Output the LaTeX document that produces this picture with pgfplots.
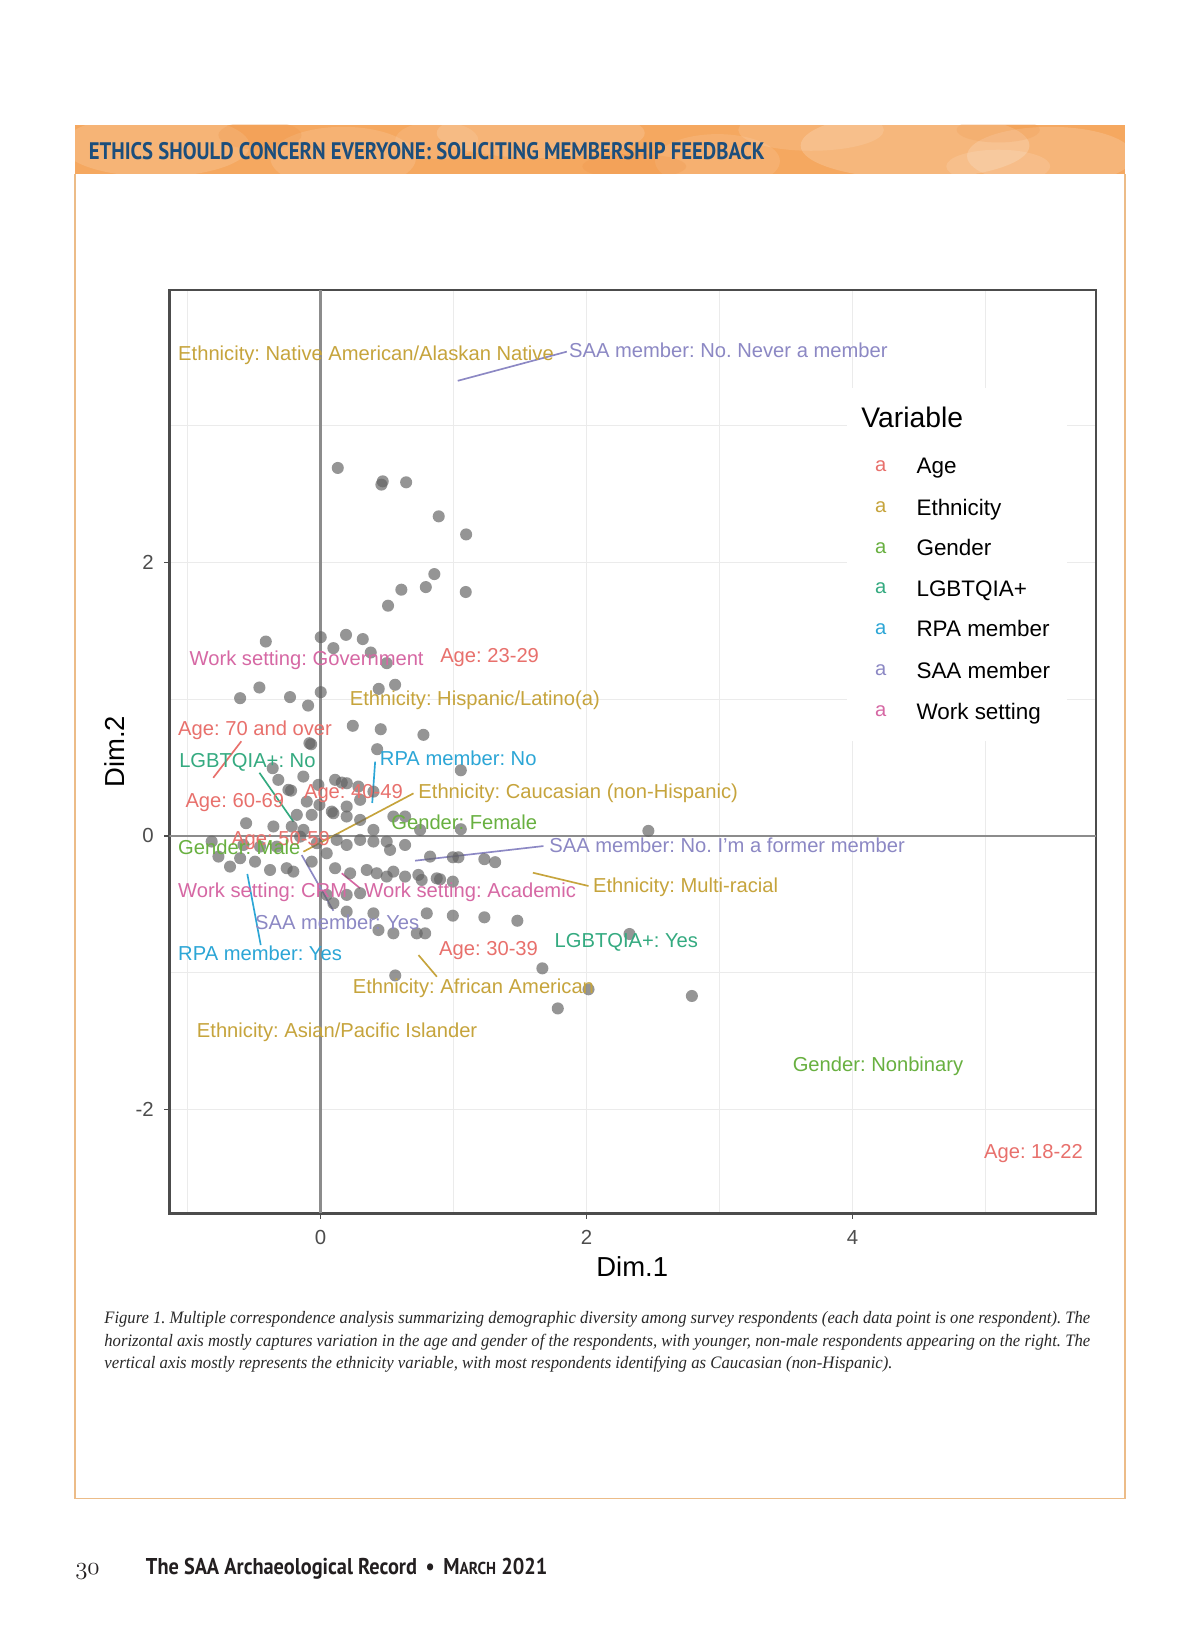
\documentclass[border=0pt]{standalone}
\usepackage{pgfplots}
\pgfplotsset{compat=1.18}
\usepackage{pgfplotstable}
\usepackage{graphicx}
\usepackage{fontspec}
\setmainfont{Liberation Sans}
\newfontfamily\capfont{Liberation Serif}
\newfontfamily\headfont{PT Sans}
\frenchspacing

\definecolor{cAge}{RGB}{232,112,108}
\definecolor{cEth}{RGB}{198,164,60}
\definecolor{cGen}{RGB}{104,176,64}
\definecolor{cLGB}{RGB}{52,170,128}
\definecolor{cRPA}{RGB}{44,166,214}
\definecolor{cSAA}{RGB}{140,136,196}
\definecolor{cWork}{RGB}{214,104,164}
\definecolor{headblue}{RGB}{28,78,124}
\definecolor{bannerbase}{RGB}{245,168,96}
\definecolor{bannerdark}{RGB}{238,148,70}
\definecolor{boxcol}{RGB}{236,188,136}
\definecolor{gridcol}{RGB}{235,235,235}
\definecolor{ticklab}{RGB}{77,77,77}
\definecolor{zerocol}{RGB}{140,140,140}
\definecolor{ptcol}{RGB}{100,100,100}
\definecolor{capcol}{RGB}{40,40,40}
\definecolor{footcol}{RGB}{35,31,32}

\pgfplotstableread{
x y
0.130 2.690
0.468 2.592
0.458 2.568
0.644 2.585
0.889 2.336
1.095 2.204
0.856 1.914
0.792 1.819
0.608 1.800
0.508 1.683
1.092 1.783
0.002 1.453
0.192 1.470
0.318 1.439
0.097 1.373
0.378 1.341
-0.411 1.421
0.498 1.263
-0.459 1.085
-0.604 1.007
-0.229 1.015
0.002 1.051
-0.093 0.953
0.438 1.075
0.561 1.105
0.243 0.805
0.453 0.780
0.774 0.739
-0.083 0.678
-0.070 0.670
0.426 0.634
1.055 0.480
-0.359 0.495
-0.317 0.410
-0.129 0.434
-0.221 0.331
0.110 0.410
0.160 0.390
0.198 0.385
0.398 0.324
-0.016 0.373
0.285 0.361
-0.241 0.337
-0.103 0.251
-0.008 0.227
0.085 0.178
0.197 0.215
0.298 0.264
-0.178 0.154
-0.066 0.154
0.097 0.166
-0.559 0.093
-0.354 0.069
-0.216 0.069
-0.128 0.044
0.197 0.142
0.298 0.117
0.398 0.044
0.548 0.142
0.636 0.142
0.749 0.044
-0.818 -0.041
-0.579 -0.066
-0.454 -0.078
-0.329 -0.078
-0.153 -0.005
-0.028 -0.053
0.122 -0.029
0.197 -0.066
0.298 -0.029
0.398 -0.041
0.498 -0.041
0.636 -0.066
0.523 -0.102
-0.767 -0.151
-0.680 -0.224
-0.604 -0.163
-0.492 -0.188
-0.379 -0.249
-0.254 -0.236
-0.204 -0.261
-0.066 -0.188
0.047 -0.127
0.110 -0.236
0.223 -0.273
0.348 -0.249
0.423 -0.273
0.498 -0.297
0.548 -0.261
0.636 -0.297
0.736 -0.285
0.761 -0.322
0.874 -0.310
0.824 -0.151
0.995 -0.156
1.037 -0.156
1.232 -0.170
1.313 -0.192
0.899 -0.317
0.995 -0.334
1.055 0.049
2.465 0.037
0.047 -0.431
0.197 -0.431
0.298 -0.419
0.097 -0.492
0.197 -0.553
0.398 -0.566
0.799 -0.566
0.995 -0.583
1.232 -0.595
1.480 -0.620
0.436 -0.688
0.548 -0.712
0.724 -0.712
0.787 -0.712
2.323 -0.717
1.668 -0.968
0.562 -1.020
2.015 -1.121
1.784 -1.261
2.792 -1.170
}\pts

\newcommand{\lab}{\fontsize{9.7}{11}\selectfont}
\newcommand{\leg}{\fontsize{10.8}{12}\selectfont}

\begin{document}
\begin{tikzpicture}
\fill[white] (0,0) rectangle (577pt,784.25pt);
\begin{scope}[x=0.5pt,y=-0.5pt,yshift=784.25pt]
  % banner
  \begin{scope}
    \clip (72,120) rectangle (1082,167);
    \fill[bannerbase] (72,120) rectangle (1082,167);
    \foreach \ex/\ey/\rx/\ry/\op in {150/140/90/30/0.14, 330/152/70/30/0.12, 520/128/100/24/0.15, 690/155/60/26/0.10, 880/140/110/32/0.18, 1010/150/80/28/0.16, 780/125/70/20/0.12, 420/135/40/18/0.10, 960/160/50/16/0.12}{
      \fill[white,opacity=\op] (\ex,\ey) ellipse ({\rx} and {\ry});
    }
    \fill[bannerdark,opacity=0.25] (250,130) ellipse (40 and 14);
    \fill[bannerdark,opacity=0.25] (610,160) ellipse (50 and 12);
    \fill[bannerdark,opacity=0.20] (960,125) ellipse (40 and 12);
  \end{scope}
  \node[anchor=west,inner sep=0,text=headblue] at (85,145)
    {\resizebox{325pt}{\height}{\headfont\bfseries\fontsize{11.5}{12}\selectfont ETHICS SHOULD CONCERN EVERYONE: SOLICITING MEMBERSHIP FEEDBACK}};
  \draw[boxcol,line width=0.7pt] (72,167) -- (72,1441) -- (1082,1441) -- (1082,167);
\end{scope}

\begin{axis}[
  at={(81.5pt,200.75pt)}, anchor=south west,
  scale only axis, width=445.5pt, height=444pt,
  xmin=-1.135, xmax=5.83, ymin=-2.76, ymax=3.99,
  xtick={0,2,4}, xticklabels={0,2,4},
  ytick={-2,0,2}, yticklabels={-2,0,2},
  minor xtick={-1,1,3,5}, minor ytick={-1,1,3},
  grid=both,
  major grid style={color=gridcol,line width=0.6pt},
  minor grid style={color=gridcol,line width=0.6pt},
  axis line style={color=black!70,line width=1pt},
  tick style={color=black!70,line width=0.8pt},
  tick align=outside, major tick length=2.5pt, minor tick length=0pt,
  tick pos=left,
  ticklabel style={font=\fontsize{9.8}{11}\selectfont,text=ticklab},
  xticklabel style={yshift=-2pt},
  yticklabel style={xshift=-1.5pt},
]
\addplot[zerocol,line width=1pt] coordinates {(0,-2.76) (0,3.99)};
\addplot[zerocol,line width=1pt] coordinates {(-1.135,0) (5.83,0)};
% connector segments
\addplot[cSAA,line width=0.8pt] coordinates {(1.032,3.327) (1.852,3.540)};
\addplot[cAge,line width=0.8pt] coordinates {(-0.806,0.425) (-0.595,0.692)};
\addplot[cLGB,line width=0.8pt] coordinates {(-0.459,0.462) (-0.203,0.104)};
\addplot[cRPA,line width=0.8pt] coordinates {(0.411,0.543) (0.389,0.241)};
\addplot[cEth,line width=0.8pt] coordinates {(0.699,0.311) (-0.128,-0.115)};
\addplot[cSAA,line width=0.8pt] coordinates {(0.711,-0.181) (1.676,-0.074)};
\addplot[cWork,line width=0.8pt] coordinates {(0.160,-0.273) (0.298,-0.383)};
\addplot[cEth,line width=0.8pt] coordinates {(1.597,-0.269) (2.015,-0.366)};
\addplot[cSAA,line width=0.8pt] coordinates {(-0.141,-0.140) (0.097,-0.547)};
\addplot[cRPA,line width=0.8pt] coordinates {(-0.550,-0.278) (-0.449,-0.798)};
\addplot[cEth,line width=0.8pt] coordinates {(0.737,-0.871) (0.875,-1.029)};
% respondents
\addplot[only marks, mark=*, mark size=2.9pt,
  mark options={fill=ptcol,draw=ptcol,line width=0pt,fill opacity=0.68,draw opacity=0}]
  table[x=x,y=y] {\pts};
\end{axis}

\begin{scope}[x=0.5pt,y=-0.5pt,yshift=784.25pt]
  % legend
  \fill[white] (815,373) rectangle (1026,713);
  \node[anchor=base west,inner sep=0,font=\fontsize{13.6}{15}\selectfont] at (828,411.5) {Variable};
  \foreach \c/\t/\yy in {cAge/Age/448, cEth/Ethnicity/488, cGen/Gender/527, cLGB/LGBTQIA+/566, cRPA/RPA member/605, cSAA/SAA member/645, cWork/Work setting/684}{
    \node[anchor=base,inner sep=0,text=\c,font=\lab] at (847,\yy+5) {a};
    \node[anchor=base west,inner sep=0,font=\leg] at (881,\yy+7.5) {\t};
  }
  % category labels
  \tikzset{lb/.style={anchor=base west,inner sep=0,font=\lab}}
  \node[lb,text=cEth] at (171,347) {Ethnicity: Native American/Alaskan Native};
  \node[lb,text=cSAA] at (547,344) {SAA member: No. Never a member};
  \node[lb,text=cWork] at (182,640) {Work setting: Government};
  \node[lb,text=cAge] at (423,637) {Age: 23-29};
  \node[lb,text=cEth] at (336,678) {Ethnicity: Hispanic/Latino(a)};
  \node[lb,text=cAge] at (171,707) {Age: 70 and over};
  \node[lb,text=cLGB] at (172,738) {LGBTQIA+: No};
  \node[lb,text=cRPA] at (365,736) {RPA member: No};
  \node[lb,text=cAge] at (178,777) {Age: 60-69};
  \node[lb,text=cAge] at (292,768) {Age: 40-49};
  \node[lb,text=cEth] at (402,768) {Ethnicity: Caucasian (non-Hispanic)};
  \node[lb,text=cGen] at (376,798) {Gender: Female};
  \node[lb,text=cAge] at (222,813) {Age: 50-59};
  \node[lb,text=cGen] at (171,822) {Gender: Male};
  \node[lb,text=cSAA] at (528,820) {SAA member: No. I'm a former member};
  \node[lb,text=cWork] at (171,863) {Work setting: CRM};
  \node[lb,text=cWork] at (350,863) {Work setting: Academic};
  \node[lb,text=cEth] at (570,858) {Ethnicity: Multi-racial};
  \node[lb,text=cSAA] at (245,894) {SAA member: Yes};
  \node[lb,text=cRPA] at (171,924) {RPA member: Yes};
  \node[lb,text=cAge] at (422,919) {Age: 30-39};
  \node[lb,text=cLGB] at (533,911) {LGBTQIA+: Yes};
  \node[lb,text=cEth] at (339,955) {Ethnicity: African American};
  \node[lb,text=cEth] at (189,998) {Ethnicity: Asian/Pacific Islander};
  \node[lb,text=cGen] at (762,1030) {Gender: Nonbinary};
  \node[lb,text=cAge] at (946,1114) {Age: 18-22};
  % axis titles
  \node[inner sep=0,font=\fontsize{13.2}{15}\selectfont] at (608,1218) {Dim.1};
  \node[inner sep=0,rotate=90,font=\fontsize{13.2}{15}\selectfont] at (110,723) {Dim.2};
  % caption
  \node[anchor=base west,inner sep=0,text=capcol] at (100,1273)
    {\resizebox{474pt}{\height}{\capfont\itshape\fontsize{8.4}{10}\selectfont Figure 1. Multiple correspondence analysis summarizing demographic diversity among survey respondents (each data point is one respondent). The}};
  \node[anchor=base west,inner sep=0,text=capcol] at (100,1294.5)
    {\resizebox{474pt}{\height}{\capfont\itshape\fontsize{8.4}{10}\selectfont horizontal axis mostly captures variation in the age and gender of the respondents, with younger, non-male respondents appearing on the right. The}};
  \node[anchor=base west,inner sep=0,text=capcol] at (100,1316)
    {\resizebox{379pt}{\height}{\capfont\itshape\fontsize{8.4}{10}\selectfont vertical axis mostly represents the ethnicity variable, with most respondents identifying as Caucasian (non-Hispanic).}};
  % footer
  \node[anchor=base west,inner sep=0,text=footcol] at (72,1514)
    {\fontsize{12}{14}\selectfont$\mathnormal{30}$};
  \node[anchor=base west,inner sep=0,text=footcol] at (140,1514)
    {\resizebox{193pt}{\height}{\headfont\bfseries\fontsize{11}{13}\selectfont The SAA Archaeological Record \,\textbullet\,\ M{\fontsize{8.3}{10}\selectfont ARCH} 2021}};
\end{scope}
\useasboundingbox (0,0) rectangle (577pt,784.25pt);
\end{tikzpicture}
\end{document}
